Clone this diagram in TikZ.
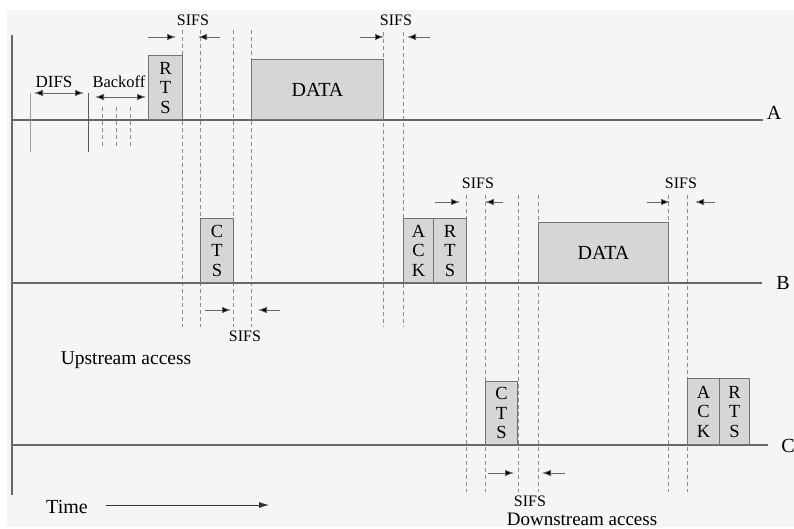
\documentclass[tikz,border=0pt]{standalone}
\usepackage{fontspec}
\setmainfont{Liberation Serif}
\usetikzlibrary{arrows.meta}
\newcommand\mysifs[6]{%
  \coordinate (#1a) at (#3,#2); \coordinate (#1b) at (#4,#2);
  \coordinate (#1c) at (#6,#2); \coordinate (#1d) at (#5,#2);
  \draw[sifsarr] (#1a) -- (#1b); \draw[sifsarr] (#1c) -- (#1d);}
\begin{document}
\begin{tikzpicture}[x=1pt,y=-1pt,
  axis/.style={draw=black!60, line width=1.1pt},
  frame/.style={draw=black!55, fill=black!16, line width=0.9pt, inner sep=0pt, anchor=south west},
  guide/.style={draw=black!45, line width=0.7pt, dash pattern=on 4pt off 3pt},
  sifsarr/.style={-{Latex[length=9pt,width=6.5pt,fill=black]}, line width=0.7pt, draw=black!60},
  dblarr/.style={{Latex[length=9pt,width=6.5pt,fill=black]}-{Latex[length=9pt,width=6.5pt,fill=black]}, line width=0.7pt, draw=black!60},
  big/.style={font=\fontsize{20}{21}\selectfont, inner sep=0pt},
  stack/.style={font=\fontsize{18.5}{19.5}\selectfont, inner sep=0pt, align=center},
  small/.style={font=\fontsize{16}{17}\selectfont, inner sep=0pt},
  mid/.style={font=\fontsize{17}{18}\selectfont, inner sep=0pt}]
\useasboundingbox (0,0) rectangle (794,529);
\fill[black!4] (7,10) rectangle (794,527);

% dashed guides
\foreach \x in {182,200,233,251} \draw[guide] (\x,30) -- (\x,327);
\foreach \x in {383,403} \draw[guide] (\x,32) -- (\x,327);
\foreach \x in {466,485,518,538,668,687} \draw[guide] (\x,195) -- (\x,492);
\foreach \x in {102,116,130} \draw[guide] (\x,107) -- (\x,148);

% time axes
\draw[axis] (12,35) -- (12,495);
\draw[axis] (12,120) -- (763,120);
\draw[axis] (12,283) -- (762,283);
\draw[axis] (12,445) -- (768,445);
\node[big] (la) at (774,113) {A};
\node[big] (lb) at (783,283) {B};
\node[big] (lc) at (788,446) {C};

% DIFS / backoff
\draw[draw=black!40, line width=0.7pt] (30,93) -- (30,152);
\draw[draw=black!65, line width=1pt] (88,93) -- (88,152);
\coordinate (difsa) at (34,93); \coordinate (difsb) at (84,93);
\draw[dblarr] (difsa) -- (difsb);
\node[mid] (difs) at (54,82) {DIFS};
\coordinate (boa) at (95,97); \coordinate (bob) at (146,97);
\draw[dblarr] (boa) -- (bob);
\node[mid, font=\fontsize{16.5}{17}\selectfont] (backoff) at (119,82) {Backoff};

% station A frames
\node[frame, minimum width=34pt, minimum height=64pt] (rtsa) at (148,120) {};
\node[stack] at (rtsa.center) {R\\T\\S};
\node[frame, minimum width=132pt, minimum height=60pt] (dataa) at (251,120) {};
\node[big] at (dataa.center) {DATA};

% station B frames
\node[frame, minimum width=33pt, minimum height=64pt] (ctsb) at (200,283) {};
\node[stack] at (ctsb.center) {C\\T\\S};
\node[frame, minimum width=30pt, minimum height=64pt] (ackb) at (403,283) {};
\node[stack] at (ackb.center) {A\\C\\K};
\node[frame, minimum width=33pt, minimum height=64pt] (rtsb) at (433,283) {};
\node[stack] at (rtsb.center) {R\\T\\S};
\node[frame, minimum width=130pt, minimum height=60pt] (datab) at (538,283) {};
\node[big] at (datab.center) {DATA};

% station C frames
\node[frame, minimum width=32pt, minimum height=63pt] (ctsc) at (485,445) {};
\node[stack] at (ctsc.center) {C\\T\\S};
\node[frame, minimum width=32pt, minimum height=66pt] (ackc) at (687,445) {};
\node[stack] at (ackc.center) {A\\C\\K};
\node[frame, minimum width=30pt, minimum height=66pt] (rtsc) at (719,445) {};
\node[stack] at (rtsc.center) {R\\T\\S};

% SIFS markers
\mysifs{s1}{37}{148}{176}{198}{220}
\node[small] (sifs1) at (193,20) {SIFS};
\mysifs{s2}{37}{360}{384}{407}{430}
\node[small] (sifs2) at (396,20) {SIFS};
\mysifs{s3}{202}{435}{460}{485}{503}
\node[small] (sifs3) at (478,183) {SIFS};
\mysifs{s4}{202}{647}{670}{695}{715}
\node[small] (sifs4) at (681,183) {SIFS};
\mysifs{s5}{310}{205}{231}{258}{280}
\node[small] (sifs5) at (245,336) {SIFS};
\mysifs{s6}{473}{488}{514}{542}{565}
\node[small] (sifs6) at (530,501) {SIFS};

% captions
\node[big, font=\fontsize{19.5}{20}\selectfont] (up) at (126,360) {Upstream access};
\node[big, font=\fontsize{19}{20}\selectfont] (down) at (582,519) {Downstream access};
\node[big] (time) at (67,507) {Time};
\coordinate (ta) at (106,505); \coordinate (tb) at (269,505);
\draw[-{Latex[length=10pt,width=6pt]}, line width=0.8pt, draw=black!80] (ta) -- (tb);
\end{tikzpicture}
\end{document}
